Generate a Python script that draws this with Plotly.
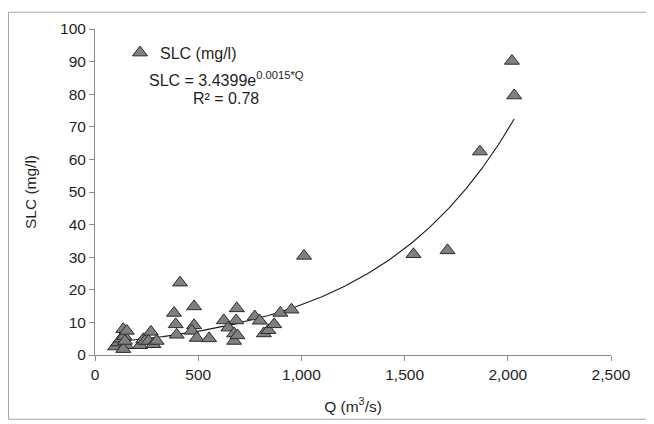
import numpy as np
import plotly.graph_objects as go

# Discharge Q (m3/s) and suspended load concentration SLC (mg/l)
q_values = [97, 113, 126, 137, 142, 150, 137, 154, 145, 218, 234, 242, 259, 271, 283, 299,
            383, 391, 396, 412, 480, 480, 469, 493, 553,
            624, 646, 674, 674, 687, 684, 690,
            774, 798, 818, 840, 868, 898, 952, 1013,
            1543, 1708, 1865, 2020, 2031]
slc_values = [2.6, 3.8, 5.0, 7.9, 5.8, 3.0, 1.8, 7.4, 4.3, 3.0, 4.8, 4.3, 4.3, 7.1, 3.3, 4.3,
              12.9, 9.4, 6.2, 22.2, 14.9, 9.1, 7.4, 5.2, 5.1,
              10.6, 8.4, 6.6, 4.3, 14.3, 10.6, 6.0,
              11.8, 10.5, 6.6, 7.6, 9.4, 12.9, 13.9, 30.4,
              30.9, 32.1, 62.4, 90.2, 79.6]

# Exponential trendline coefficients as displayed on the chart
fit_a = 3.4399
fit_b = 0.0015
r_squared = 0.78

x_ticks = [0, 500, 1000, 1500, 2000, 2500]
x_tick_labels = ["0", "500", "1,000", "1,500", "2,000", "2,500"]
y_ticks = [0, 10, 20, 30, 40, 50, 60, 70, 80, 90, 100]

trend_q = np.linspace(min(q_values), max(q_values), 300)
trend_slc = fit_a * np.exp(fit_b * trend_q)

FONT = "Liberation Sans, Arial, sans-serif"
TXT = "#1f1f1f"
OFF = 8  # page body margin of the html page
W, H = 654 - OFF, 424 - OFF
# plot area in page pixels: left 95, right 611, top 26, bottom 356
L, R, T, B = 95 - OFF, W - (611 - OFF), 26 - OFF, H - (356 - OFF)
pw, ph = W - L - R, H - T - B

def px2paper_x(px):  # px in page pixels
    return (px - OFF - L) / pw

def px2paper_y(py):
    return (H - B - (py - OFF)) / ph

fig = go.Figure()
fig.add_trace(go.Scatter(
    x=trend_q, y=trend_slc, mode="lines",
    line=dict(color="#1a1a1a", width=1.1),
    showlegend=False, hoverinfo="skip"))
fig.add_trace(go.Scatter(
    x=q_values, y=slc_values, mode="markers", name="SLC (mg/l)",
    marker=dict(symbol="triangle-up", size=13, color="#808080",
                line=dict(color="#2b2b2b", width=1))))

fig.add_annotation(
    x=px2paper_x(226), y=px2paper_y(77), xref="paper", yref="paper",
    text=f"SLC = {fit_a}e<sup>{fit_b}*Q</sup>", showarrow=False,
    font=dict(family=FONT, size=16, color=TXT), xanchor="center", yanchor="middle")
fig.add_annotation(
    x=px2paper_x(226), y=px2paper_y(96), xref="paper", yref="paper",
    text=f"R² = {r_squared}", showarrow=False,
    font=dict(family=FONT, size=16, color=TXT), xanchor="center", yanchor="middle")

# outer chart border
fig.add_shape(type="rect", xref="paper", yref="paper",
              x0=px2paper_x(8.5), x1=px2paper_x(647), y0=px2paper_y(421), y1=px2paper_y(9),
              line=dict(color="#a6a6a6", width=1), fillcolor="rgba(0,0,0,0)", layer="below")

axis_common = dict(showgrid=False, zeroline=False, showline=True, linecolor="#8c8c8c",
                   linewidth=1, ticks="outside", ticklen=5, tickcolor="#8c8c8c",
                   tickfont=dict(family=FONT, size=15.5, color=TXT))

fig.update_xaxes(range=[0, 2500], tickvals=x_ticks, ticktext=x_tick_labels,
                 title=dict(text="Q (m<sup>3</sup>/s)", font=dict(family=FONT, size=15.5, color=TXT),
                            standoff=19),
                 **axis_common)
fig.update_yaxes(range=[0, 100], tickvals=y_ticks,
                 title=dict(text="SLC (mg/l)", font=dict(family=FONT, size=15.5, color=TXT),
                            standoff=19),
                 **axis_common)

fig.update_layout(
    width=W, height=H,
    margin=dict(l=L, r=R, t=T, b=B),
    paper_bgcolor="white", plot_bgcolor="white",
    font=dict(family=FONT, size=16, color=TXT),
    showlegend=True,
    legend=dict(x=px2paper_x(120), y=px2paper_y(50), xanchor="left", yanchor="middle",
                bgcolor="rgba(0,0,0,0)", font=dict(family=FONT, size=16, color=TXT),
                itemwidth=30, borderwidth=0),
)

fig.write_html("out.html")
